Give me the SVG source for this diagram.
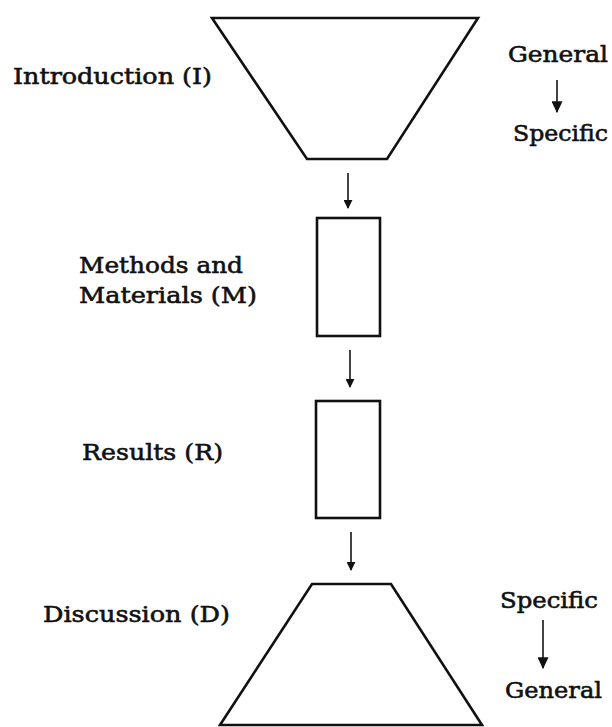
<svg xmlns="http://www.w3.org/2000/svg" width="612" height="727" viewBox="0 0 612 727">
<style>
.shape{fill:none;stroke:#111;stroke-width:2.6;stroke-linejoin:miter}
.lbl{font-family:"DejaVu Serif","Liberation Serif",serif;font-size:23px;fill:#111;stroke:#111;stroke-width:0.6}
.conn{stroke:#222;stroke-width:1.7;fill:none}
</style>
<defs>
<marker id="ah" viewBox="0 0 10 10" refX="9" refY="5" markerWidth="9" markerHeight="9" markerUnits="userSpaceOnUse" orient="auto" preserveAspectRatio="none">
<path d="M0,0 L10,5 L0,10 Z" fill="#111"/>
</marker>
<marker id="ahb" viewBox="0 0 10 10" refX="9" refY="5" markerWidth="12" markerHeight="11" markerUnits="userSpaceOnUse" orient="auto" preserveAspectRatio="none">
<path d="M0,0 L10,5 L0,10 Z" fill="#111"/>
</marker>
</defs>
<rect width="612" height="727" fill="#fff"/>
<g id="introduction">
<polygon class="shape" points="212,18 478,18 387,159 307,159"/>
<text class="lbl" x="13" y="84" textLength="199" lengthAdjust="spacingAndGlyphs">Introduction (I)</text>
</g>
<g id="methods">
<rect class="shape" x="317" y="218" width="63" height="118"/>
<text class="lbl" x="79" y="273" textLength="164" lengthAdjust="spacingAndGlyphs">Methods and</text>
<text class="lbl" x="79" y="303" textLength="178" lengthAdjust="spacingAndGlyphs">Materials (M)</text>
</g>
<g id="results">
<rect class="shape" x="316" y="401" width="64" height="117"/>
<text class="lbl" x="82" y="460" textLength="141" lengthAdjust="spacingAndGlyphs">Results (R)</text>
</g>
<g id="discussion">
<polygon class="shape" points="312,584 391,584 482,725 220,725"/>
<text class="lbl" x="43" y="622" textLength="187" lengthAdjust="spacingAndGlyphs">Discussion (D)</text>
</g>
<g id="general-specific-top">
<text class="lbl" x="508" y="62" textLength="100" lengthAdjust="spacingAndGlyphs">General</text>
<text class="lbl" x="513" y="141" textLength="95" lengthAdjust="spacingAndGlyphs">Specific</text>
</g>
<g id="specific-general-bottom">
<text class="lbl" x="500" y="608" textLength="98" lengthAdjust="spacingAndGlyphs">Specific</text>
<text class="lbl" x="505" y="698" textLength="97" lengthAdjust="spacingAndGlyphs">General</text>
</g>
<g id="connectors">
<line class="conn" x1="348" y1="173" x2="348" y2="208" marker-end="url(#ah)"/>
<line class="conn" x1="350" y1="350" x2="350" y2="387" marker-end="url(#ah)"/>
<line class="conn" x1="351" y1="532" x2="351" y2="570" marker-end="url(#ah)"/>
<line class="conn" x1="557" y1="80" x2="557" y2="112" marker-end="url(#ahb)"/>
<line class="conn" x1="543" y1="620" x2="543" y2="668" marker-end="url(#ahb)"/>
</g>
</svg>
